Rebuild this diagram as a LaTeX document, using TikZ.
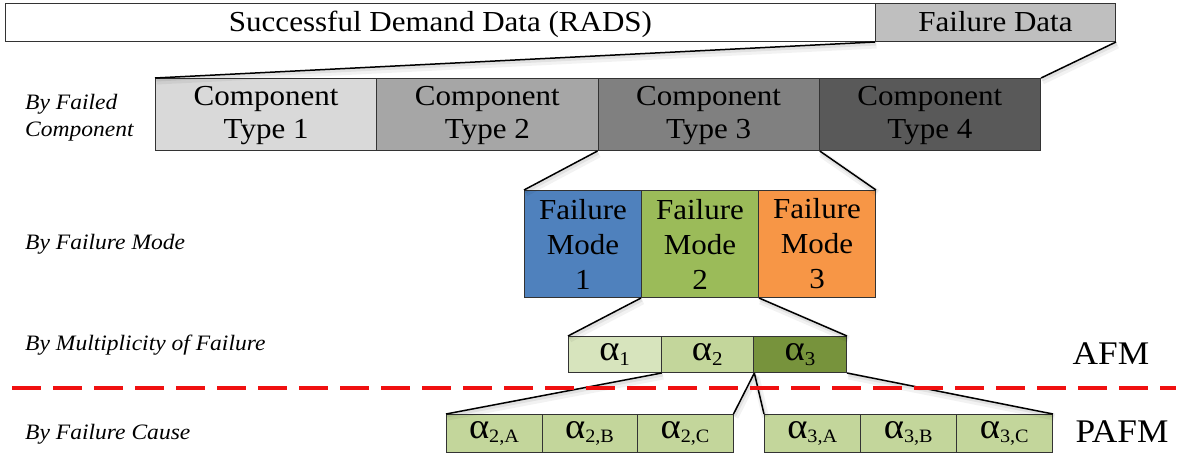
\documentclass[tikz,border=0pt]{standalone}
\usepackage{fontspec}
\setmainfont{Liberation Serif}[FakeStretch=1.07]
\newcommand\alglyph{{\fontsize{36}{36}\selectfont α}}
\definecolor{fdgray}{HTML}{BFBFBF}
\definecolor{ctA}{HTML}{D9D9D9}
\definecolor{ctB}{HTML}{A6A6A6}
\definecolor{ctC}{HTML}{808080}
\definecolor{ctD}{HTML}{595959}
\definecolor{fmA}{HTML}{4F81BD}
\definecolor{fmB}{HTML}{9BBB59}
\definecolor{fmC}{HTML}{F79646}
\definecolor{alA}{HTML}{D7E4BD}
\definecolor{alB}{HTML}{C3D69B}
\definecolor{alC}{HTML}{77933C}
\definecolor{cutred}{HTML}{F01010}
\begin{document}
\begin{tikzpicture}[x=1pt,y=-1pt,
  box/.style={draw=black!80, line width=1pt, inner sep=0pt, anchor=north west,
    align=center, text=black},
  bigtext/.style={font=\fontsize{29}{33}\selectfont},
  fmtext/.style={font=\fontsize{29}{35}\selectfont},
  comp/.style={box, bigtext, minimum width=221.25pt, minimum height=72pt,
    text depth=4pt},
  fmode/.style={box, fmtext, minimum width=117pt, minimum height=107pt},
  alpha/.style={box, font=\fontsize{28}{30}\selectfont, minimum width=92.67pt, minimum height=36pt},
  cause/.style={box, font=\fontsize{27}{30}\selectfont, fill=alB, minimum height=38pt},
  rowlabel/.style={anchor=west, align=left, inner sep=0pt,
    font=\fontsize{22}{27}\selectfont\itshape},
  level/.style={anchor=center, inner sep=0pt, font=\fontsize{33}{33}\selectfont},
  link/.style={draw=black, line width=1.5pt,
    preaction={draw=black, line width=7pt, opacity=0.05, transform canvas={shift={(1.5pt,-3pt)}}},
    preaction={draw=black, line width=3pt, opacity=0.07, transform canvas={shift={(1pt,-2pt)}}}},
  cut/.style={draw=cutred, line width=4pt, dash pattern=on 29pt off 12pt}
]
\useasboundingbox (0,0) rectangle (1180,459);

% data split
\node[box, bigtext, fill=white, minimum width=870pt, minimum height=38pt, text depth=3pt] (sd) at (5,3) {Successful Demand Data (RADS)};
\node[box, bigtext, fill=fdgray, minimum width=240pt, minimum height=38pt, text depth=3pt] (fd) at (875,3) {Failure Data};

% component types
\node[comp, fill=ctA] (c1) at (155,78) {Component\\Type 1};
\node[comp, fill=ctB] (c2) at (376.25,78) {Component\\Type 2};
\node[comp, fill=ctC] (c3) at (597.5,78) {Component\\Type 3};
\node[comp, fill=ctD] (c4) at (818.75,78) {Component\\Type 4};

% failure modes
\node[fmode, fill=fmA] (m1) at (524,190) {Failure\\Mode\\1};
\node[fmode, fill=fmB] (m2) at (641,190) {Failure\\Mode\\2};
\node[fmode, fill=fmC] (m3) at (758,190) {Failure\\Mode\\3};

% multiplicity
\node[alpha, fill=alA] (a1) at (568,336) {\alglyph\textsubscript{1}};
\node[alpha, fill=alB] (a2) at (660.67,336) {\alglyph\textsubscript{2}};
\node[alpha, fill=alC] (a3) at (753.33,336) {\alglyph\textsubscript{3}};

% causes
\node[cause, minimum width=95.5pt] (b2a) at (446,414) {\alglyph\textsubscript{2,A}};
\node[cause, minimum width=95.5pt] (b2b) at (541.5,414) {\alglyph\textsubscript{2,B}};
\node[cause, minimum width=95.5pt] (b2c) at (637,414) {\alglyph\textsubscript{2,C}};
\node[cause, minimum width=96pt] (b3a) at (764,414) {\alglyph\textsubscript{3,A}};
\node[cause, minimum width=96pt] (b3b) at (860,414) {\alglyph\textsubscript{3,B}};
\node[cause, minimum width=96pt] (b3c) at (956,414) {\alglyph\textsubscript{3,C}};

% connectors
\draw[link] (fd.south west) -- (c1.north west);
\draw[link] (fd.south east) -- (c4.north east);
\draw[link] (c3.south west) -- (m1.north west);
\draw[link] (c3.south east) -- (m3.north east);
\draw[link] (m2.south west) -- (a1.north west);
\draw[link] (m2.south east) -- (a3.north east);
\draw[link] (a1.south east) -- (b2a.north west);
\draw[link] (a2.south east) -- (b2c.north east);
\draw[link] (a2.south east) -- (b3a.north west);
\draw[link] (a3.south east) -- (b3c.north east);

% row labels
\node[rowlabel] (l1) at (25,118) {By Failed\\Component};
\node[rowlabel] (l2) at (25,244) {By Failure Mode};
\node[rowlabel] (l3) at (25,345) {By Multiplicity of Failure};
\node[rowlabel] (l4) at (25,434) {By Failure Cause};

% AFM / PAFM boundary
\coordinate (cutL) at (12,388);
\coordinate (cutR) at (1176,388);
\draw[cut] (cutL) -- (cutR);
\node[level] (afm) at (1111,354) {AFM};
\node[level] (pafm) at (1122,432) {PAFM};
\end{tikzpicture}
\end{document}
